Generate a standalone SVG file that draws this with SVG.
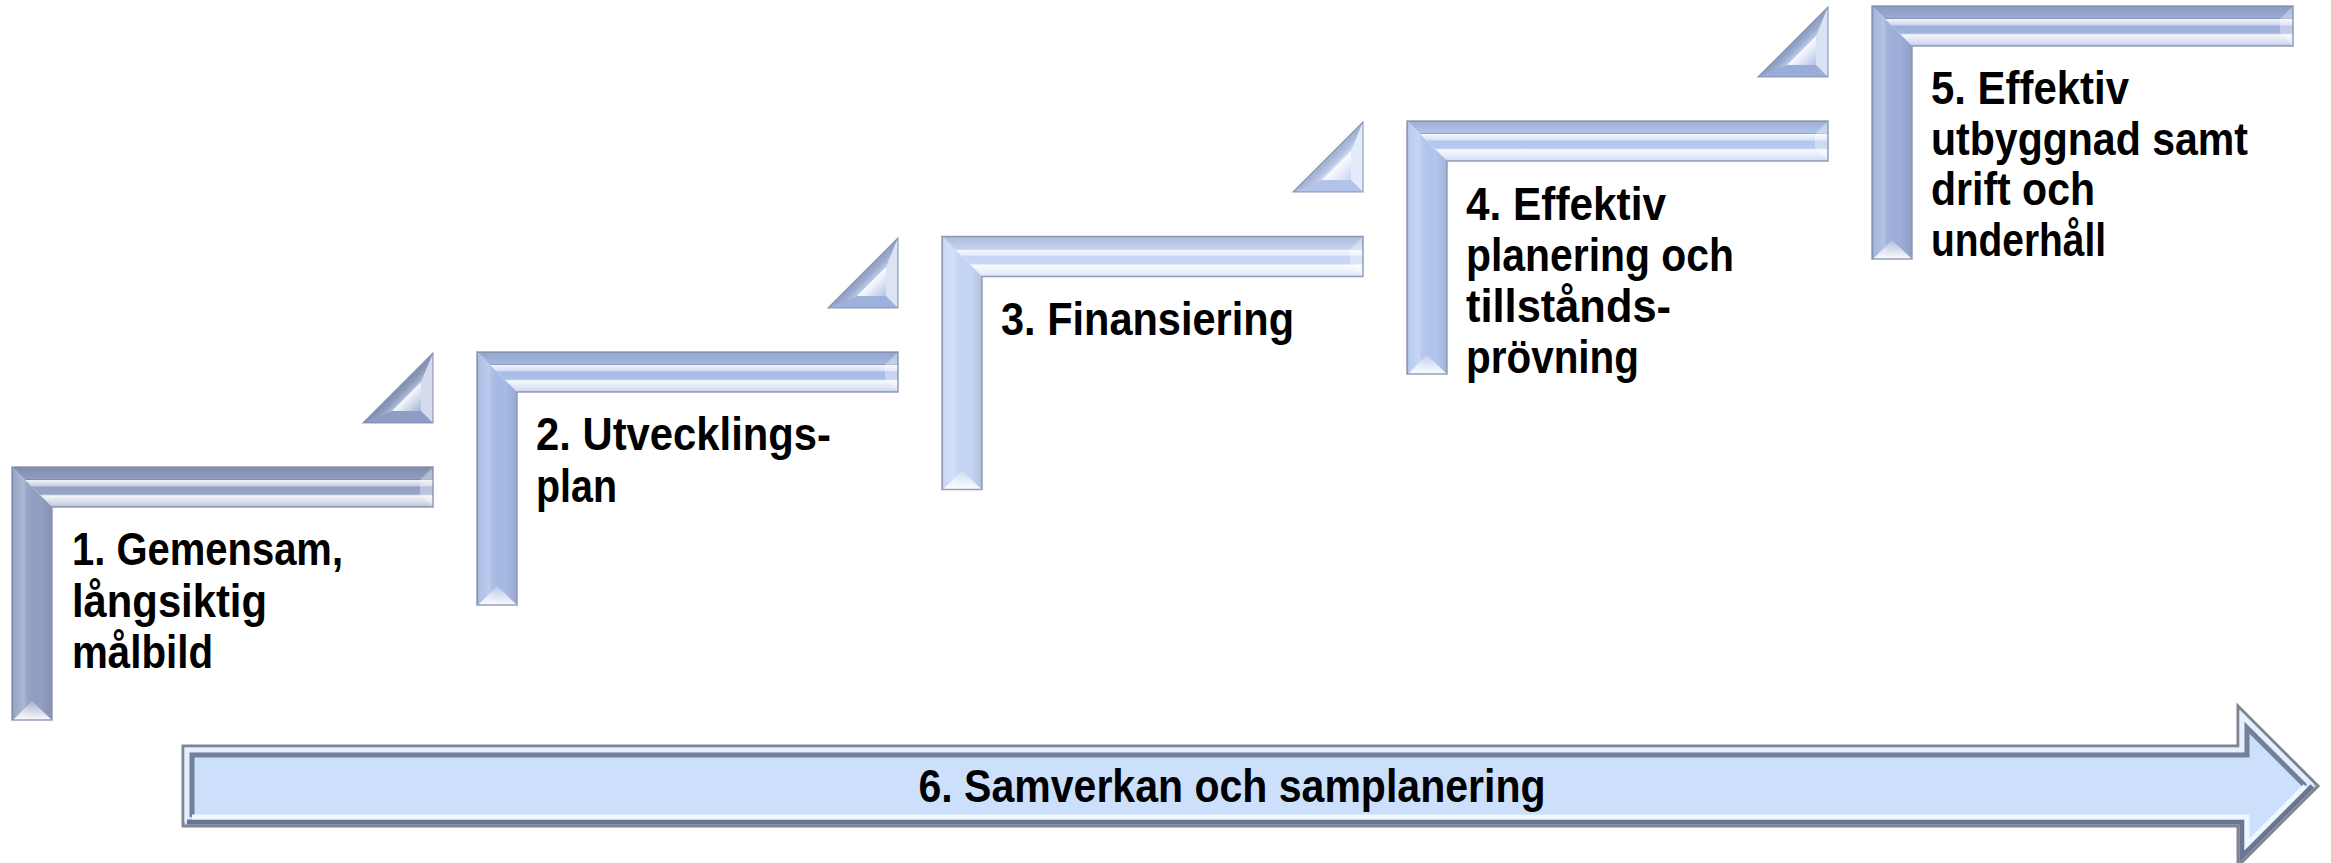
<svg xmlns="http://www.w3.org/2000/svg" width="2331" height="863" viewBox="0 0 2331 863">
<style>
  .lbl { font-family: "Liberation Sans Narrow", "Liberation Sans", "DejaVu Sans Condensed", sans-serif; font-weight: bold; font-size: 46px; fill: #000; }
  .outl { fill: none; stroke: #7b86a3; stroke-width: 1.5; stroke-opacity: 0.8; }
  .endf { fill: #ffffff; fill-opacity: 0.35; }
  .tout { fill: none; stroke: #7b86a3; stroke-width: 1.2; stroke-opacity: 0.8; }
</style>
<defs>
  <linearGradient id="hg" x1="0" y1="0" x2="0" y2="1">
    <stop offset="0" stop-color="#000" stop-opacity="0.12"/>
    <stop offset="0.30" stop-color="#000" stop-opacity="0.02"/>
    <stop offset="0.33" stop-color="#fff" stop-opacity="0.85"/>
    <stop offset="0.47" stop-color="#fff" stop-opacity="0.5"/>
    <stop offset="0.50" stop-color="#fff" stop-opacity="0"/>
    <stop offset="0.68" stop-color="#fff" stop-opacity="0.05"/>
    <stop offset="0.72" stop-color="#fff" stop-opacity="0.9"/>
    <stop offset="0.90" stop-color="#fff" stop-opacity="0.6"/>
    <stop offset="1" stop-color="#fff" stop-opacity="0.35"/>
  </linearGradient>
  <linearGradient id="vg" x1="0" y1="0" x2="1" y2="0">
    <stop offset="0" stop-color="#000" stop-opacity="0.12"/>
    <stop offset="0.06" stop-color="#fff" stop-opacity="0.08"/>
    <stop offset="0.30" stop-color="#fff" stop-opacity="0.25"/>
    <stop offset="0.36" stop-color="#fff" stop-opacity="0.08"/>
    <stop offset="0.70" stop-color="#000" stop-opacity="0"/>
    <stop offset="0.94" stop-color="#000" stop-opacity="0.08"/>
    <stop offset="1" stop-color="#fff" stop-opacity="0.35"/>
  </linearGradient>
  <linearGradient id="veg" x1="0" y1="0" x2="0" y2="1">
    <stop offset="0" stop-color="#fff" stop-opacity="0.2"/>
    <stop offset="1" stop-color="#fff" stop-opacity="0.95"/>
  </linearGradient>
  <linearGradient id="thg" x1="0" y1="0" x2="1" y2="1">
    <stop offset="0.5" stop-color="#000" stop-opacity="0.12"/>
    <stop offset="0.62" stop-color="#fff" stop-opacity="0.3"/>
  </linearGradient>
  <linearGradient id="tig" x1="0" y1="0" x2="1" y2="1">
    <stop offset="0.5" stop-color="#fff" stop-opacity="0.95"/>
    <stop offset="1" stop-color="#fff" stop-opacity="0.15"/>
  </linearGradient>
  <path id="hb" d="M0,0 H421 V40 H40 Z"/>
  <path id="vb" d="M0,0 L40,40 V253 H0 Z"/>
  <path id="hbEnd" d="M421,0 V40 L408,27 V13 Z"/>
  <path id="vbEnd" d="M1,253 H40 L20,234 Z"/>
  <path id="lOut" d="M0,0 H421 V40 H40 V253 H0 Z"/>
  <path id="tBase" d="M0,0 V70 H-70 Z"/>
  <path id="tHyp" d="M-70,70 L0,0 L-12,29 L-41,58 Z"/>
  <path id="tRight" d="M0,0 V70 L-12,58 V29 Z"/>
  <path id="tBottom" d="M0,70 H-70 L-41,58 H-12 Z"/>
  <path id="tInner" d="M-12,29 V58 H-41 Z"/>
</defs>
<rect width="2331" height="863" fill="#ffffff"/>

<g id="connectors">
  <g id="tri1" transform="translate(433,353)">
    <use href="#tBase" fill="#94a5cf"/>
    <use href="#tHyp" fill="url(#thg)"/>
    <use href="#tRight" fill="#fff" fill-opacity="0.6"/>
    <use href="#tBottom" fill="#3c4664" fill-opacity="0.08"/>
    <use href="#tInner" fill="url(#tig)"/>
    <use href="#tBase" class="tout"/>
  </g>
  <g id="tri2" transform="translate(898,238)">
    <use href="#tBase" fill="#a6bae5"/>
    <use href="#tHyp" fill="url(#thg)"/>
    <use href="#tRight" fill="#fff" fill-opacity="0.6"/>
    <use href="#tBottom" fill="#3c4664" fill-opacity="0.08"/>
    <use href="#tInner" fill="url(#tig)"/>
    <use href="#tBase" class="tout"/>
  </g>
  <g id="tri3" transform="translate(1363,122)">
    <use href="#tBase" fill="#bccef3"/>
    <use href="#tHyp" fill="url(#thg)"/>
    <use href="#tRight" fill="#fff" fill-opacity="0.6"/>
    <use href="#tBottom" fill="#3c4664" fill-opacity="0.08"/>
    <use href="#tInner" fill="url(#tig)"/>
    <use href="#tBase" class="tout"/>
  </g>
  <g id="tri4" transform="translate(1828,7)">
    <use href="#tBase" fill="#a2b6e2"/>
    <use href="#tHyp" fill="url(#thg)"/>
    <use href="#tRight" fill="#fff" fill-opacity="0.6"/>
    <use href="#tBottom" fill="#3c4664" fill-opacity="0.08"/>
    <use href="#tInner" fill="url(#tig)"/>
    <use href="#tBase" class="tout"/>
  </g>
</g>

<g id="step1" transform="translate(12,467)">
  <use href="#hb" fill="#92a0c4"/>
  <use href="#hb" fill="url(#hg)"/>
  <use href="#vb" fill="#92a0c4"/>
  <use href="#vb" fill="url(#vg)"/>
  <use href="#hbEnd" class="endf"/>
  <use href="#vbEnd" fill="url(#veg)"/>
  <use href="#lOut" class="outl"/>
  <text class="lbl" x="60" y="98" textLength="271" lengthAdjust="spacingAndGlyphs">1. Gemensam,</text>
  <text class="lbl" x="60" y="149.5" textLength="195" lengthAdjust="spacingAndGlyphs">långsiktig</text>
  <text class="lbl" x="60" y="201" textLength="141" lengthAdjust="spacingAndGlyphs">målbild</text>
</g>

<g id="step2" transform="translate(477,352)">
  <use href="#hb" fill="#a7bbe6"/>
  <use href="#hb" fill="url(#hg)"/>
  <use href="#vb" fill="#a7bbe6"/>
  <use href="#vb" fill="url(#vg)"/>
  <use href="#hbEnd" class="endf"/>
  <use href="#vbEnd" fill="url(#veg)"/>
  <use href="#lOut" class="outl"/>
  <text class="lbl" x="59" y="98" textLength="295" lengthAdjust="spacingAndGlyphs">2. Utvecklings-</text>
  <text class="lbl" x="59" y="149.5" textLength="81" lengthAdjust="spacingAndGlyphs">plan</text>
</g>

<g id="step3" transform="translate(942,236.5)">
  <use href="#hb" fill="#c6d6f6"/>
  <use href="#hb" fill="url(#hg)"/>
  <use href="#vb" fill="#c6d6f6"/>
  <use href="#vb" fill="url(#vg)"/>
  <use href="#hbEnd" class="endf"/>
  <use href="#vbEnd" fill="url(#veg)"/>
  <use href="#lOut" class="outl"/>
  <text class="lbl" x="59" y="98" textLength="293" lengthAdjust="spacingAndGlyphs">3. Finansiering</text>
</g>

<g id="step4" transform="translate(1407,121)">
  <use href="#hb" fill="#b3c7f0"/>
  <use href="#hb" fill="url(#hg)"/>
  <use href="#vb" fill="#b3c7f0"/>
  <use href="#vb" fill="url(#vg)"/>
  <use href="#hbEnd" class="endf"/>
  <use href="#vbEnd" fill="url(#veg)"/>
  <use href="#lOut" class="outl"/>
  <text class="lbl" x="59" y="99" textLength="200" lengthAdjust="spacingAndGlyphs">4. Effektiv</text>
  <text class="lbl" x="59" y="150" textLength="268" lengthAdjust="spacingAndGlyphs">planering och</text>
  <text class="lbl" x="59" y="201" textLength="205" lengthAdjust="spacingAndGlyphs">tillstånds-</text>
  <text class="lbl" x="59" y="252" textLength="173" lengthAdjust="spacingAndGlyphs">prövning</text>
</g>

<g id="step5" transform="translate(1872,6)">
  <use href="#hb" fill="#9dafda"/>
  <use href="#hb" fill="url(#hg)"/>
  <use href="#vb" fill="#9dafda"/>
  <use href="#vb" fill="url(#vg)"/>
  <use href="#hbEnd" class="endf"/>
  <use href="#vbEnd" fill="url(#veg)"/>
  <use href="#lOut" class="outl"/>
  <text class="lbl" x="59" y="98" textLength="198" lengthAdjust="spacingAndGlyphs">5. Effektiv</text>
  <text class="lbl" x="59" y="148.5" textLength="317" lengthAdjust="spacingAndGlyphs">utbyggnad samt</text>
  <text class="lbl" x="59" y="199" textLength="164" lengthAdjust="spacingAndGlyphs">drift och</text>
  <text class="lbl" x="59" y="249.5" textLength="175" lengthAdjust="spacingAndGlyphs">underhåll</text>
</g>

<g id="step6">
  <polygon points="183,746 2238,746 2238,706 2318,786 2238,866 2238,826 183,826" fill="#cce0fc" stroke="#7f848e" stroke-width="3" stroke-linejoin="miter"/>
  <polyline points="187,822 187,750 2242,750 2242,715.7 2312.3,786" fill="none" stroke="#e4efff" stroke-width="5" stroke-linejoin="miter"/>
  <polyline points="192,817 192,755 2247,755 2247,727.7 2305.3,786" fill="none" stroke="#74809a" stroke-width="5" stroke-linejoin="miter"/>
  <polyline points="2312.3,786 2242,856.3 2242,822 187,822" fill="none" stroke="#6b7590" stroke-width="5" stroke-linejoin="miter"/>
  <polyline points="2305.3,786 2247,844.3 2247,817 192,817" fill="none" stroke="#eef6ff" stroke-width="5" stroke-linejoin="miter"/>
  <text class="lbl" x="1232" y="802" text-anchor="middle" textLength="627" lengthAdjust="spacingAndGlyphs">6. Samverkan och samplanering</text>
</g>
</svg>
